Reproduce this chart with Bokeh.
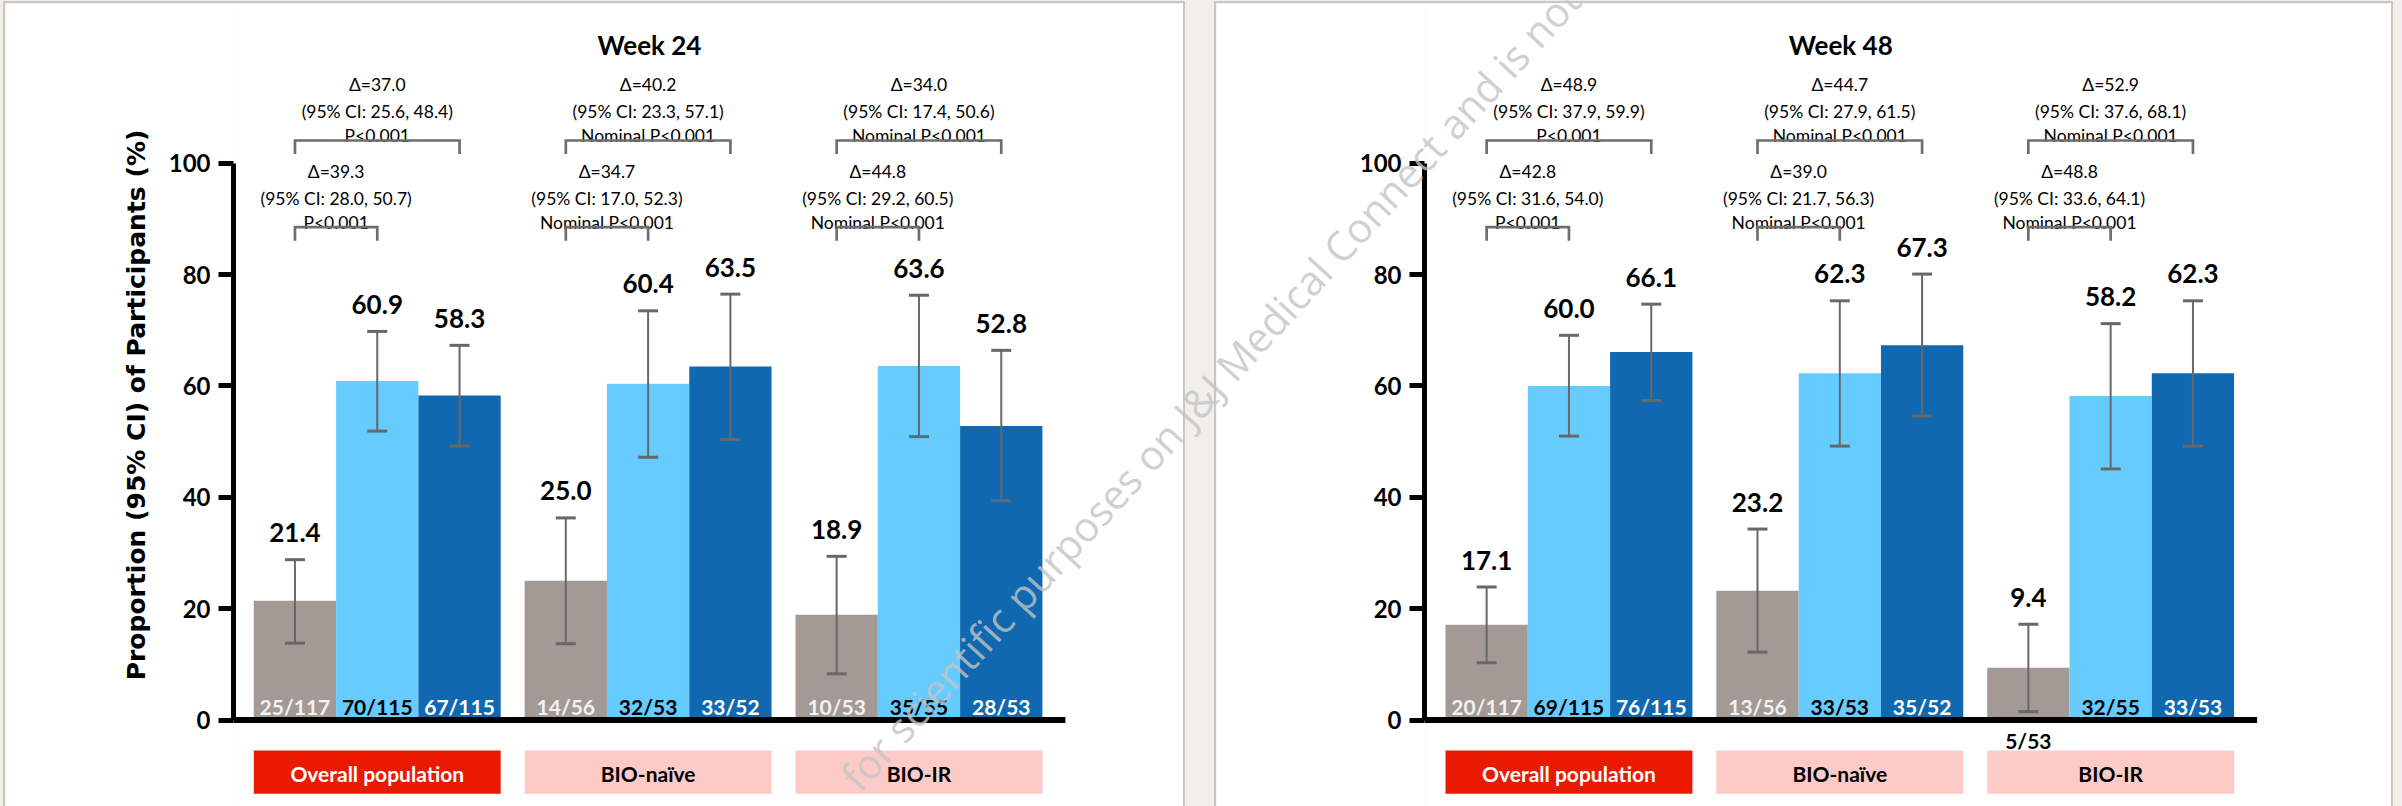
from bokeh.plotting import figure
from bokeh.layouts import row
from bokeh.models import Range1d, FixedTicker
from bokeh.core.properties import value
from bokeh.embed import file_html
from bokeh.resources import INLINE

# ---------------------------------------------------------------- data
groups = ["Overall population", "BIO-naïve", "BIO-IR"]
ticks = [0, 20, 40, 60, 80, 100]
y_label = "Proportion (95% CI) of Participants (%)"

# Week 24: response rate (%), 95% CI and n/N per arm
w24_arm1 = [21.4, 25.0, 18.9]
w24_arm1_lo = [13.8, 13.7, 8.3]
w24_arm1_hi = [28.8, 36.3, 29.4]
w24_arm1_n = ["25/117", "14/56", "10/53"]
w24_arm2 = [60.9, 60.4, 63.6]
w24_arm2_lo = [51.9, 47.2, 50.9]
w24_arm2_hi = [69.8, 73.5, 76.3]
w24_arm2_n = ["70/115", "32/53", "35/55"]
w24_arm3 = [58.3, 63.5, 52.8]
w24_arm3_lo = [49.2, 50.4, 39.4]
w24_arm3_hi = [67.3, 76.5, 66.4]
w24_arm3_n = ["67/115", "33/52", "28/53"]

# Week 48
w48_arm1 = [17.1, 23.2, 9.4]
w48_arm1_lo = [10.3, 12.2, 1.5]
w48_arm1_hi = [23.9, 34.3, 17.2]
w48_arm1_n = ["20/117", "13/56", "5/53"]
w48_arm2 = [60.0, 62.3, 58.2]
w48_arm2_lo = [51.0, 49.2, 45.1]
w48_arm2_hi = [69.1, 75.3, 71.2]
w48_arm2_n = ["69/115", "33/53", "32/55"]
w48_arm3 = [66.1, 67.3, 62.3]
w48_arm3_lo = [57.4, 54.6, 49.2]
w48_arm3_hi = [74.7, 80.1, 75.3]
w48_arm3_n = ["76/115", "35/52", "33/53"]

# treatment differences vs arm 1: (arm 3 comparison, arm 2 comparison)
w24_diff_arm3 = [("Δ=37.0", "(95% CI: 25.6, 48.4)", "P<0.001"),
                 ("Δ=40.2", "(95% CI: 23.3, 57.1)", "Nominal P<0.001"),
                 ("Δ=34.0", "(95% CI: 17.4, 50.6)", "Nominal P<0.001")]
w24_diff_arm2 = [("Δ=39.3", "(95% CI: 28.0, 50.7)", "P<0.001"),
                 ("Δ=34.7", "(95% CI: 17.0, 52.3)", "Nominal P<0.001"),
                 ("Δ=44.8", "(95% CI: 29.2, 60.5)", "Nominal P<0.001")]
w48_diff_arm3 = [("Δ=48.9", "(95% CI: 37.9, 59.9)", "P<0.001"),
                 ("Δ=44.7", "(95% CI: 27.9, 61.5)", "Nominal P<0.001"),
                 ("Δ=52.9", "(95% CI: 37.6, 68.1)", "Nominal P<0.001")]
w48_diff_arm2 = [("Δ=42.8", "(95% CI: 31.6, 54.0)", "P<0.001"),
                 ("Δ=39.0", "(95% CI: 21.7, 56.3)", "Nominal P<0.001"),
                 ("Δ=48.8", "(95% CI: 33.6, 64.1)", "Nominal P<0.001")]

watermark = "for scientific purposes on J&J Medical Connect and is not for"

# ---------------------------------------------------------------- style
ARM_COLORS = ["#A39A95", "#66CCFF", "#1068B0"]
N_COLORS = ["#F2F2F2", "#000000", "#FFFFFF"]
BOX_COLORS = ["#EA1A00", "#FCCBC7", "#FCCBC7"]
BOX_TEXT = ["#FFFFFF", "#000000", "#000000"]
ERR_COLOR = "#686868"
BRACKET_COLOR = "#6E6E6E"
FONT = "Lato"

PX = 5.567            # pixels per percentage point
ZERO_Y = 719.5        # page row of the 0 line
PAGE_W = 2402
PAGE_H = 806
TOP = 3
FIG_H = PAGE_H - TOP
Y_RANGE = (-(PAGE_H - ZERO_Y) / PX, (ZERO_Y - TOP) / PX)

BAR_W = 82.3
GROUP_STEP = 270.85


def u(px):
    """pixel distance -> percentage points"""
    return px / PX


def page_y(py):
    """page row -> y value"""
    return (ZERO_Y - py) / PX


def lift(size):
    """baseline correction for a text of the given pixel size"""
    return u(0.42 * size)


def build_panel(title, arms, lows, highs, ns, diff_far, diff_near,
                page_left, fig_w, frame_left, first_bar, left_gap, with_label):
    p = figure(width=fig_w, height=FIG_H,
               x_range=Range1d(frame_left, page_left + fig_w),
               y_range=Range1d(*Y_RANGE),
               x_axis_location=None, toolbar_location=None,
               output_backend="svg",
               min_border_left=frame_left - page_left, min_border_right=0,
               min_border_top=0, min_border_bottom=0,
               outline_line_color=None,
               background_fill_color="white", border_fill_color="white",
               margin=(TOP, 0, 0, left_gap),
               styles={"outline": "2px solid #CCC6BF"})
    p.xgrid.visible = False
    p.ygrid.visible = False

    ax = p.yaxis[0]
    ax.ticker = FixedTicker(ticks=ticks)
    ax.bounds = (0, 100)
    ax.axis_line_width = 5
    ax.axis_line_color = "black"
    ax.major_tick_line_width = 5
    ax.major_tick_line_color = "black"
    ax.major_tick_in = 0
    ax.major_tick_out = 15
    ax.minor_tick_line_color = None
    ax.major_label_text_font = FONT
    ax.major_label_text_font_size = "24px"
    ax.major_label_text_font_style = "bold"
    ax.major_label_text_color = "black"
    ax.major_label_standoff = 8
    if with_label:
        ax.axis_label = y_label
        ax.axis_label_text_font = "DejaVu Sans"
        ax.axis_label_text_font_size = "25px"
        ax.axis_label_text_font_style = "bold"
        ax.axis_label_text_color = "black"
        ax.axis_label_standoff = 15

    centers = [[first_bar + g * GROUP_STEP + a * BAR_W + BAR_W / 2
                for g in range(len(groups))] for a in range(3)]

    # bars
    for a in range(3):
        p.vbar(x=centers[a], top=arms[a], bottom=0, width=BAR_W,
               fill_color=ARM_COLORS[a], line_color=None)

    # group boxes under the axis
    g_left = [first_bar + g * GROUP_STEP for g in range(len(groups))]
    g_right = [x + 3 * BAR_W for x in g_left]
    p.quad(left=g_left, right=g_right, top=page_y(750), bottom=page_y(793.3),
           fill_color=BOX_COLORS, line_color=None)
    p.text(x=[(l + r) / 2 for l, r in zip(g_left, g_right)],
           y=page_y(781.5) + lift(21), text=groups, text_color=BOX_TEXT,
           text_font=value(FONT), text_font_size="21px", text_font_style="bold",
           text_align="center", text_baseline="alphabetic")

    # baseline
    axis_end = g_right[-1] + 23
    p.segment(x0=[frame_left], y0=[0], x1=[axis_end], y1=[0],
              line_color="black", line_width=6)

    # error bars and labels
    for a in range(3):
        xc = centers[a]
        p.segment(x0=xc, y0=lows[a], x1=xc, y1=highs[a],
                  line_color=ERR_COLOR, line_width=2)
        for ends in (lows[a], highs[a]):
            p.segment(x0=[x - 10 for x in xc], y0=ends, x1=[x + 10 for x in xc],
                      y1=ends, line_color=ERR_COLOR, line_width=3)
        p.text(x=xc, y=[h + u(16) + lift(26) for h in highs[a]],
               text=[f"{v:.1f}" for v in arms[a]], text_color="black",
               text_font=value(FONT), text_font_size="26px", text_font_style="bold",
               text_align="center", text_baseline="alphabetic")
        inside = [v >= 12 for v in arms[a]]
        p.text(x=xc, y=[(u(4.5) if ok else page_y(749)) + lift(21) for ok in inside],
               text=ns[a],
               text_color=[N_COLORS[a] if ok else "black" for ok in inside],
               text_font=value(FONT), text_font_size="21px", text_font_style="bold",
               text_align="center", text_baseline="alphabetic")

    # comparison brackets with their annotations
    leg = u(13.5)
    for diffs, far_arm, y_br in ((diff_far, 2, page_y(140)), (diff_near, 1, page_y(226.7))):
        xs, ys = [], []
        for g in range(len(groups)):
            x0, x1 = centers[0][g], centers[far_arm][g]
            mid = (x0 + x1) / 2
            for line, off in zip(diffs[g], (48.3, 21.7, -2.5)):
                p.text(x=[mid], y=[y_br + u(off) + lift(17.5)], text=[line],
                       text_color="black", text_font=value(FONT),
                       text_font_size="17.5px",
                       text_align="center", text_baseline="alphabetic")
            xs.append([x0, x0, x1, x1])
            ys.append([y_br - leg, y_br, y_br, y_br - leg])
        p.multi_line(xs=xs, ys=ys, line_color=BRACKET_COLOR, line_width=2.7,
                     line_join="miter")

    # panel title
    p.text(x=[(frame_left + axis_end) / 2], y=[page_y(53.3) + u(9)], text=[title],
           text_color="black", text_font=value(FONT), text_font_size="26px",
           text_font_style="bold", text_align="center", text_baseline="alphabetic")
    return p


p1 = build_panel("Week 24",
                 [w24_arm1, w24_arm2, w24_arm3],
                 [w24_arm1_lo, w24_arm2_lo, w24_arm3_lo],
                 [w24_arm1_hi, w24_arm2_hi, w24_arm3_hi],
                 [w24_arm1_n, w24_arm2_n, w24_arm3_n],
                 w24_diff_arm3, w24_diff_arm2,
                 page_left=5, fig_w=1178, frame_left=233, first_bar=253.3,
                 left_gap=5, with_label=True)
p2 = build_panel("Week 48",
                 [w48_arm1, w48_arm2, w48_arm3],
                 [w48_arm1_lo, w48_arm2_lo, w48_arm3_lo],
                 [w48_arm1_hi, w48_arm2_hi, w48_arm3_hi],
                 [w48_arm1_n, w48_arm2_n, w48_arm3_n],
                 w48_diff_arm3, w48_diff_arm2,
                 page_left=1216, fig_w=1175, frame_left=1424, first_bar=1445,
                 left_gap=33, with_label=False)

# transparent sheet laid over both panels for the diagonal watermark
wm = figure(width=PAGE_W, height=PAGE_H, x_range=Range1d(0, PAGE_W),
            y_range=Range1d(0, PAGE_H), x_axis_location=None, y_axis_location=None,
            toolbar_location=None, output_backend="svg",
            min_border_left=0, min_border_right=0, min_border_top=0, min_border_bottom=0,
            outline_line_color=None, background_fill_color=None, border_fill_color=None,
            styles={"position": "absolute", "left": "0px", "top": "0px",
                    "pointer-events": "none", "z-index": "5"})
wm.xgrid.visible = False
wm.ygrid.visible = False
wm.text(x=[848], y=[PAGE_H - 800 + 0.42 * 41], text=[watermark], angle=0.83,
        text_color="#C4C4C4", text_alpha=0.8, text_font=value("Open Sans"),
        text_font_size="41px", text_align="left", text_baseline="alphabetic")

layout = row(p1, p2, wm, width=PAGE_W, height=PAGE_H, spacing=0,
             styles={"background-color": "#F1EFEC", "position": "relative"})

open("out.html", "w").write(file_html(layout, INLINE))
